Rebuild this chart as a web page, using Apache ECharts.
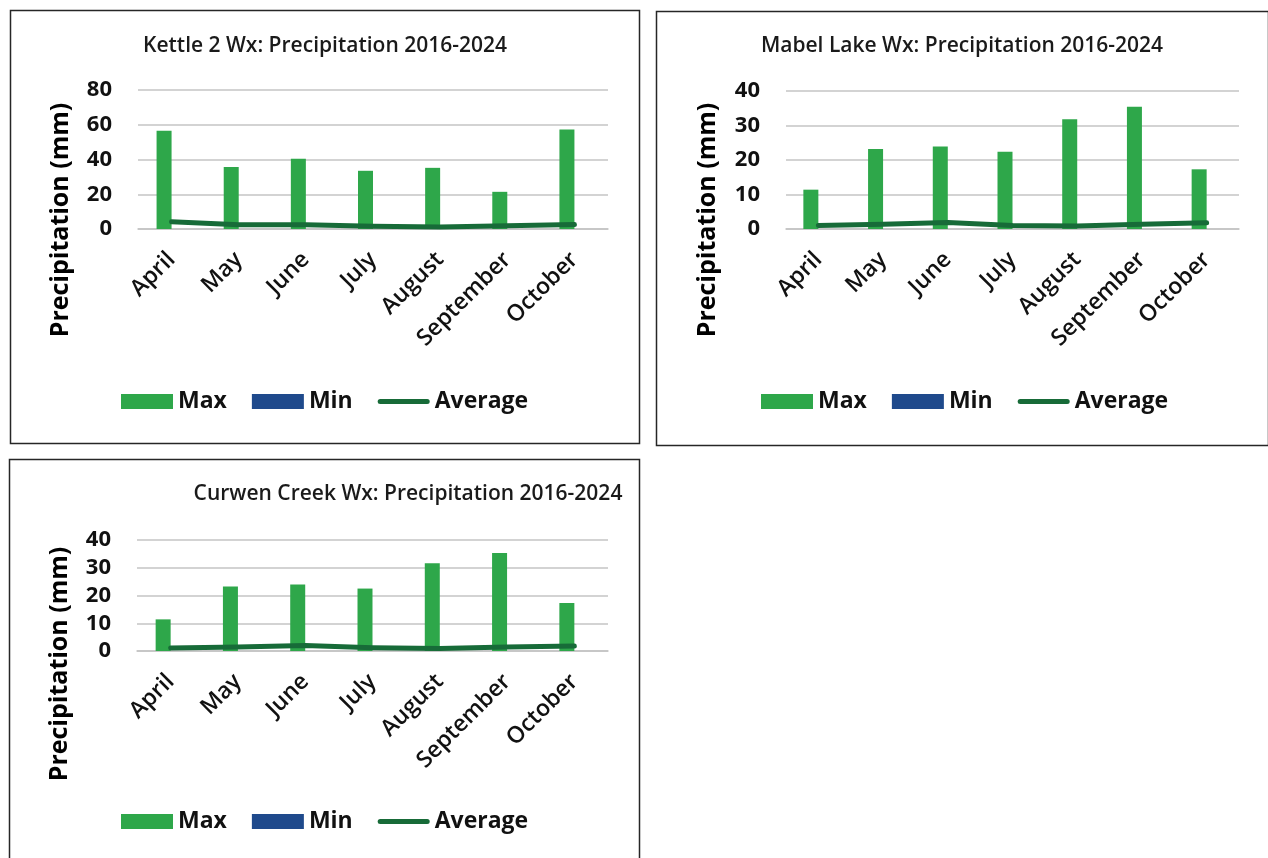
<!DOCTYPE html>
<html>
<head>
<meta charset="utf-8">
<script src="https://cdn.jsdelivr.net/npm/echarts@6/dist/echarts.min.js"></script>
<style>
  html, body { margin: 0; padding: 0; background: #fff; }
  #chart { width: 1268px; height: 858px; }
</style>
</head>
<body>
<div id="chart"></div>
<script>
// Monthly precipitation (mm), 2016-2024, per weather station
const months = ['April', 'May', 'June', 'July', 'August', 'September', 'October'];

const kettleMax = [56.5, 35.7, 40.4, 33.5, 35.2, 21.4, 57.2];
const kettleMin = [0, 0, 0, 0, 0, 0, 0];
const kettleAvg = [4.2, 2.4, 2.5, 1.6, 1.2, 1.8, 2.6];

const mabelMax = [11.4, 23.2, 23.9, 22.4, 31.8, 35.4, 17.3];
const mabelMin = [0, 0, 0, 0, 0, 0, 0];
const mabelAvg = [1.0, 1.4, 1.9, 1.0, 0.9, 1.4, 1.8];

const curwenMax = [11.4, 23.2, 24.0, 22.5, 31.6, 35.3, 17.3];
const curwenMin = [0, 0, 0, 0, 0, 0, 0];
const curwenAvg = [1.1, 1.4, 2.0, 1.2, 0.9, 1.4, 1.8];

const kettleTicks = { max: 80, interval: 20 };
const mabelTicks = { max: 40, interval: 10 };
const curwenTicks = { max: 40, interval: 10 };

const FONT = '"Open Sans", "Noto Sans", sans-serif';
const C_MAX = '#2ea74a';
const C_MIN = '#1f4a8c';
const C_AVG = '#176b38';
const C_GRID = '#c4c4c4';

// Thick round-ended stroke used as the legend key of the average line
const AVG_ICON = 'path://M2.5,0 L49.5,0 A2.5,2.5 0 0 1 49.5,5 L2.5,5 A2.5,2.5 0 0 1 2.5,0 Z';

// Panel layout: frame box, plot area, title centre, legend origin, axis-name centre
const panels = [
  { title: 'Kettle 2 Wx: Precipitation 2016-2024', max: kettleMax, min: kettleMin, avg: kettleAvg, ticks: kettleTicks,
    frame: [8, 8, 629, 433], grid: [138, 90, 470, 139], titleX: 325, titleY: 46, legend: [121, 390], nameX: 61, nameY: 220 },
  { title: 'Mabel Lake Wx: Precipitation 2016-2024', max: mabelMax, min: mabelMin, avg: mabelAvg, ticks: mabelTicks,
    frame: [654, 9, 612, 434], grid: [786, 91, 453, 138], titleX: 962, titleY: 46, legend: [761, 390], nameX: 708, nameY: 220 },
  { title: 'Curwen Creek Wx: Precipitation 2016-2024', max: curwenMax, min: curwenMin, avg: curwenAvg, ticks: curwenTicks,
    frame: [7, 457, 630, 430], grid: [137, 540, 471, 111], titleX: 408, titleY: 494, legend: [121, 810], nameX: 60, nameY: 664 }
];

const option = {
  animation: false,
  backgroundColor: '#ffffff',
  textStyle: { fontFamily: FONT },
  title: [], legend: [], grid: [], xAxis: [], yAxis: [], series: [], graphic: []
};

panels.forEach((p, i) => {
  option.graphic.push({
    type: 'rect', left: p.frame[0], top: p.frame[1], silent: true,
    shape: { width: p.frame[2], height: p.frame[3] },
    style: { fill: 'none', stroke: '#262626', lineWidth: 1.5 }
  });
  option.graphic.push({
    type: 'text', x: p.nameX, y: p.nameY, rotation: Math.PI / 2, silent: true,
    style: { text: 'Precipitation (mm)', font: '700 25px ' + FONT, fill: '#000',
             textAlign: 'center', textVerticalAlign: 'middle' }
  });
  option.title.push({
    text: p.title, left: p.titleX, top: p.titleY, textAlign: 'center', textVerticalAlign: 'middle',
    padding: 0,
    textStyle: { fontFamily: FONT, fontSize: 21, fontWeight: 600, color: '#1a1a1a' }
  });
  option.legend.push({
    left: p.legend[0], top: p.legend[1], itemWidth: 52, itemHeight: 15, itemGap: 25,
    padding: 0, symbolKeepAspect: true,
    textStyle: { fontFamily: FONT, fontSize: 23, fontWeight: 700, color: '#111' },
    data: [
      { name: 'Max', icon: 'rect' },
      { name: 'Min', icon: 'rect' },
      { name: 'Average', icon: AVG_ICON, itemStyle: { color: C_AVG } }
    ]
  });
  option.grid.push({ left: p.grid[0], top: p.grid[1], width: p.grid[2], height: p.grid[3] });
  option.xAxis.push({
    type: 'category', gridIndex: i, data: months,
    axisTick: { show: false },
    axisLine: { lineStyle: { color: C_GRID, width: 1.5 } },
    axisLabel: { rotate: 45, margin: 27, interval: 0,
                 fontFamily: FONT, fontSize: 23, fontWeight: 600, color: '#111' }
  });
  option.yAxis.push({
    type: 'value', gridIndex: i, min: 0, max: p.ticks.max, interval: p.ticks.interval,
    axisLine: { show: false }, axisTick: { show: false },
    splitLine: { lineStyle: { color: C_GRID, width: 1.5 } },
    axisLabel: { margin: 26, fontFamily: FONT, fontSize: 22, fontWeight: 700, color: '#111' }
  });
  option.series.push(
    { name: 'Max', type: 'bar', xAxisIndex: i, yAxisIndex: i, data: p.max,
      barWidth: 15, barGap: '0%', itemStyle: { color: C_MAX } },
    { name: 'Min', type: 'bar', xAxisIndex: i, yAxisIndex: i, data: p.min,
      barWidth: 15, barGap: '0%', itemStyle: { color: C_MIN } },
    { name: 'Average', type: 'line', xAxisIndex: i, yAxisIndex: i, data: p.avg,
      symbol: 'none', smooth: false, z: 5,
      lineStyle: { color: C_AVG, width: 5, cap: 'round', join: 'round' }, itemStyle: { color: C_AVG } }
  );
});

const chart = echarts.init(document.getElementById('chart'), null, { renderer: 'canvas' });
chart.setOption(option);
</script>
</body>
</html>
